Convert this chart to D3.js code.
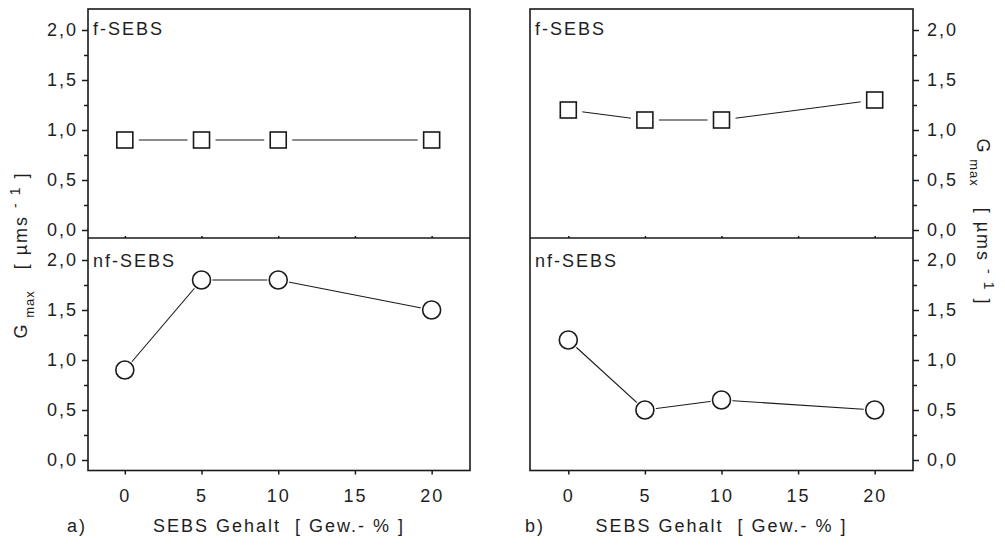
<!DOCTYPE html>
<html>
<head>
<meta charset="utf-8">
<script src="https://cdn.jsdelivr.net/npm/d3@7"></script>
<style>
  body { margin: 0; background: #fff; }
  svg text { font-family: "Liberation Sans", Arial, sans-serif; fill: #1e1e1e; }
  .tick text { font-size: 18px; letter-spacing: 2px; }
  .lbl { font-size: 18px; letter-spacing: 2px; white-space: pre; }
</style>
</head>
<body>
<svg id="chart" width="1005" height="545"></svg>
<script>
// data
var sebsContent = [0, 5, 10, 20];
var fSebsA = [0.9, 0.9, 0.9, 0.9];
var nfSebsA = [0.9, 1.8, 1.8, 1.5];
var fSebsB = [1.2, 1.1, 1.1, 1.3];
var nfSebsB = [1.2, 0.5, 0.6, 0.5];

var xTicks = [0, 5, 10, 15, 20];
var yTicks = [0, 0.5, 1, 1.5, 2];
var yTickLabels = ['0,0', '0,5', '1,0', '1,5', '2,0'];
var yMinor = [0.25, 0.75, 1.25, 1.75];

var svg = d3.select('#chart');
var ink = '#1a1a1a';

function renderPanel(p) {
  var xScale = d3.scaleLinear().domain(p.xDomain).range([p.left, p.right]);
  var yTop = d3.scaleLinear().domain([-0.08, 2.21]).range([238, 9]);
  var yBot = d3.scaleLinear().domain([-0.105, 2.22]).range([470.5, 238]);
  var g = svg.append('g');

  // y axes (ticks only, frame drawn below)
  [yTop, yBot].forEach(function (ys) {
    var side = p.axisRight ? d3.axisRight : d3.axisLeft;
    var axX = p.axisRight ? p.right : p.left;
    var major = side(ys).tickValues(yTicks).tickSize(6).tickPadding(p.axisRight ? 8 : 4)
      .tickFormat(function (d, i) { return yTickLabels[i]; });
    var minor = side(ys).tickValues(yMinor).tickSize(4).tickFormat('');
    g.append('g').attr('transform', 'translate(' + axX + ',0)').call(major);
    g.append('g').attr('transform', 'translate(' + axX + ',0)').call(minor);
  });

  // x axis
  var xAxis = d3.axisBottom(xScale).tickValues(xTicks).tickSize(4).tickPadding(15);
  g.append('g').attr('transform', 'translate(0,470.5)').call(xAxis);
  var xMid = d3.axisTop(xScale).tickValues(xTicks).tickSize(2).tickFormat('');
  g.append('g').attr('transform', 'translate(0,238)').call(xMid);

  g.selectAll('.domain').remove();
  g.selectAll('.tick line').attr('stroke', ink).attr('stroke-width', 1.5);
  g.selectAll('.tick text').attr('fill', ink);

  // frame + divider
  g.append('rect')
    .attr('x', p.left).attr('y', 9)
    .attr('width', p.right - p.left).attr('height', 470.5 - 9)
    .attr('fill', 'none').attr('stroke', ink).attr('stroke-width', 1.6);
  g.append('line')
    .attr('x1', p.left).attr('x2', p.right).attr('y1', 238).attr('y2', 238)
    .attr('stroke', ink).attr('stroke-width', 1.6);

  // series
  function series(values, ys, shape) {
    var pts = sebsContent.map(function (d, i) { return [xScale(d), ys(values[i])]; });
    g.append('path')
      .attr('d', d3.line()(pts))
      .attr('fill', 'none').attr('stroke', ink).attr('stroke-width', 1.1);
    pts.forEach(function (pt) {
      if (shape === 'square') {
        g.append('rect').attr('x', pt[0] - 14).attr('y', pt[1] - 14)
          .attr('width', 28).attr('height', 28).attr('fill', '#fff');
        g.append('rect').attr('x', pt[0] - 8).attr('y', pt[1] - 8)
          .attr('width', 16).attr('height', 16)
          .attr('fill', '#fff').attr('stroke', ink).attr('stroke-width', 1.6);
      } else {
        g.append('circle').attr('cx', pt[0]).attr('cy', pt[1]).attr('r', 11).attr('fill', '#fff');
        g.append('circle').attr('cx', pt[0]).attr('cy', pt[1]).attr('r', 9)
          .attr('fill', '#fff').attr('stroke', ink).attr('stroke-width', 1.6);
      }
    });
  }
  series(p.top, yTop, 'square');
  series(p.bottom, yBot, 'circle');

  // labels
  g.append('text').attr('class', 'lbl').attr('x', p.left + 5).attr('y', 35).text('f-SEBS');
  g.append('text').attr('class', 'lbl').attr('x', p.left + 5).attr('y', 267).text('nf-SEBS');
  g.append('text').attr('class', 'lbl').attr('x', p.tagX).attr('y', 532).text(p.tag);
  g.append('text').attr('class', 'lbl').attr('text-anchor', 'middle')
    .attr('x', (p.left + p.right) / 2).attr('y', 532)
    .text('SEBS Gehalt  [ Gew.- % ]');

  // y title
  var t = g.append('text').attr('class', 'lbl').attr('text-anchor', 'middle')
    .attr('font-size', 19).attr('letter-spacing', 2.5)
    .attr('transform', 'translate(' + p.titleX + ',' + p.titleY + ') rotate(' + p.titleRot + ')');
  t.append('tspan').text('G');
  t.append('tspan').attr('font-size', 13).attr('letter-spacing', 1).attr('dy', 7).text(' max');
  t.append('tspan').attr('dy', -7).text('   [ µms ');
  t.append('tspan').attr('font-size', 14).attr('dy', -7).text('- 1');
  t.append('tspan').attr('dy', 7).text(' ]');
}

renderPanel({
  xDomain: [-2.4, 22.5], left: 88, right: 470, axisRight: false,
  top: fSebsA, bottom: nfSebsA, tag: 'a)', tagX: 67,
  titleX: 27, titleY: 255, titleRot: -90
});
renderPanel({
  xDomain: [-2.5, 22.5], left: 530, right: 913, axisRight: true,
  top: fSebsB, bottom: nfSebsB, tag: 'b)', tagX: 525,
  titleX: 977, titleY: 222, titleRot: 90
});
</script>
</body>
</html>
